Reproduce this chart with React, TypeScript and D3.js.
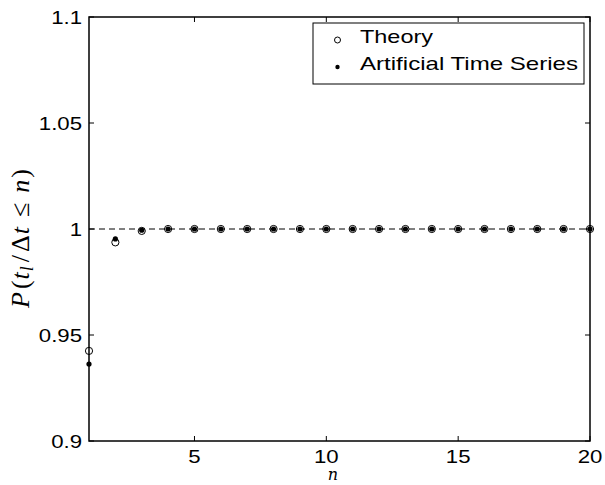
import React from "react";
import * as d3 from "d3";

const nValues = [1, 2, 3, 4, 5, 6, 7, 8, 9, 10, 11, 12, 13, 14, 15, 16, 17, 18, 19, 20];
const theory = [0.9425, 0.9937, 0.9991, 1, 1, 1, 1, 1, 1, 1, 1, 1, 1, 1, 1, 1, 1, 1, 1, 1];
const artificial = [0.9363, 0.9953, 0.9994, 1, 1, 1, 1, 1, 1, 1, 1, 1, 1, 1, 1, 1, 1, 1, 1, 1];
const xTicks = [5, 10, 15, 20];
const yTicks = [0.9, 0.95, 1, 1.05, 1.1];
const yTickLabels = ["0.9", "0.95", "1", "1.05", "1.1"];
const legendLabels = ["Theory", "Artificial Time Series"];

const W = 605;
const H = 485;
const M = { left: 89, right: 15, top: 17, bottom: 44 };

export default function App() {
  const x = d3.scaleLinear().domain([1, 20]).range([M.left, W - M.right]);
  const y = d3.scaleLinear().domain([0.9, 1.1]).range([H - M.bottom, M.top]);
  const x0 = x.range()[0], x1 = x.range()[1];
  const y0 = y.range()[0], y1 = y.range()[1];
  const font = "'Liberation Sans', Arial, Helvetica, sans-serif";
  const serif = "'Liberation Serif', 'DejaVu Serif', serif";
  const tl = 5;
  const sx = 1.17;
  return (
    <svg width={W} height={H} style={{ position: "absolute", left: 0, top: 0, background: "#fff" }}>
      <rect x={0} y={0} width={W} height={H} fill="#fff" />
      {/* dashed reference */}
      <line x1={x0} x2={x1} y1={y(1)} y2={y(1)} stroke="#000" strokeWidth={1} strokeDasharray="6,4" />
      {/* ticks */}
      {xTicks.map((t) => (
        <g key={"xt" + t}>
          <line x1={x(t)} x2={x(t)} y1={y0} y2={y0 - tl} stroke="#000" />
          <line x1={x(t)} x2={x(t)} y1={y1} y2={y1 + tl} stroke="#000" />
          <text transform={`translate(${x(t)}, ${y0 + 22}) scale(${sx},1)`} textAnchor="middle" fontFamily={font} fontSize={19}>{t}</text>
        </g>
      ))}
      {yTicks.map((t, i) => (
        <g key={"yt" + t}>
          <line x1={x0} x2={x0 + tl} y1={y(t)} y2={y(t)} stroke="#000" />
          <line x1={x1} x2={x1 - tl} y1={y(t)} y2={y(t)} stroke="#000" />
          <text transform={`translate(${x0 - 7}, ${y(t) + 7}) scale(${sx},1)`} textAnchor="end" fontFamily={font} fontSize={19}>{yTickLabels[i]}</text>
        </g>
      ))}
      {/* frame */}
      <rect x={x0} y={y1} width={x1 - x0} height={y0 - y1} fill="none" stroke="#000" strokeWidth={1.5} />
      {/* markers */}
      {nValues.map((n, i) => (
        <circle key={"th" + n} cx={x(n)} cy={y(theory[i])} r={3.6} fill="none" stroke="#000" strokeWidth={1} />
      ))}
      {nValues.map((n, i) => (
        <circle key={"ar" + n} cx={x(n)} cy={y(artificial[i])} r={2.6} fill="#000" />
      ))}
      {/* legend */}
      <rect x={313} y={23} width={271} height={61} fill="#fff" stroke="#000" strokeWidth={1} />
      <circle cx={337.5} cy={40} r={3} fill="none" stroke="#000" strokeWidth={1} />
      <text x={360} y={43} fontFamily={font} fontSize={19} textLength={73} lengthAdjust="spacingAndGlyphs">{legendLabels[0]}</text>
      <circle cx={337.5} cy={67} r={2.2} fill="#000" />
      <text x={360} y={70} fontFamily={font} fontSize={19} textLength={218} lengthAdjust="spacingAndGlyphs">{legendLabels[1]}</text>
      {/* axis labels */}
      <text x={333} y={480} textAnchor="middle" fontFamily="'DejaVu Serif', 'Liberation Serif', serif" fontStyle="italic" fontSize={16}>n</text>
      <g transform={`translate(29, 230) rotate(-90)`}>
        <text x={-78} y={0} fontFamily={serif} fontSize={26}>
          <tspan fontStyle="italic">P</tspan>
          <tspan dx={3}>(</tspan>
          <tspan fontStyle="italic" dx={1}>t</tspan>
          <tspan fontStyle="italic" fontSize={18} dy={4} dx={1}>l</tspan>
          <tspan dy={-4} dx={4}>/</tspan>
          <tspan dx={3}>Δ</tspan>
          <tspan fontStyle="italic" dx={1}>t</tspan>
          <tspan dx={10}>≤</tspan>
          <tspan dx={10} fontStyle="italic">n</tspan>
          <tspan dx={2}>)</tspan>
        </text>
      </g>
    </svg>
  );
}
